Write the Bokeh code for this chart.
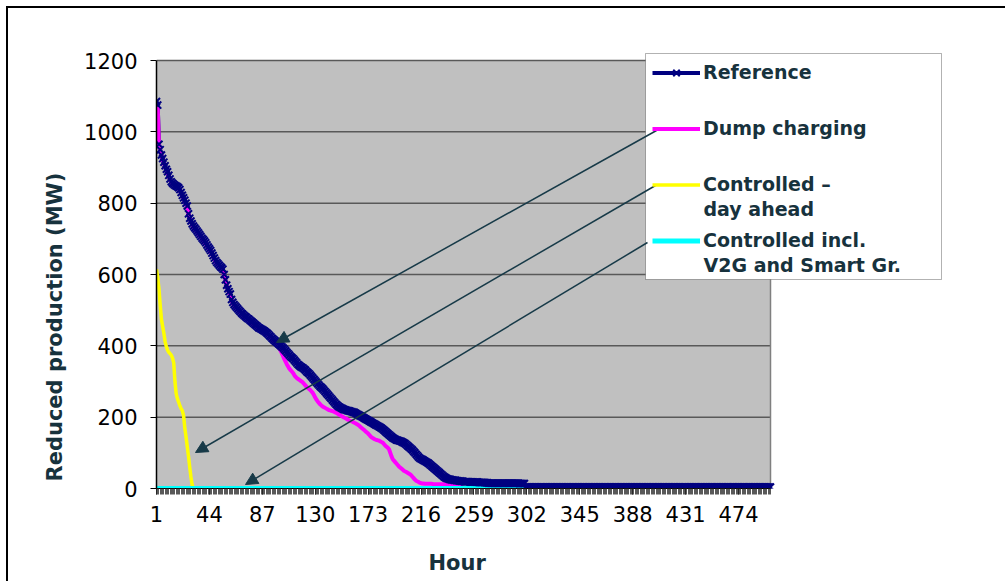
from bokeh.plotting import figure
from bokeh.models import (Range1d, FixedTicker, Legend, LegendItem, Arrow, NormalHead,
                          BoxAnnotation, Label, Title, LinearAxis)
from bokeh.embed import file_html
from bokeh.resources import INLINE

# ---------------- data ----------------
hours = list(range(1, 501))

reference = [
    1085, 1075, 965, 950, 935, 925, 915, 905, 895, 888,
    878, 868, 860, 856, 853, 850, 848, 846, 843, 838,
    830, 822, 815, 808, 800, 792, 770, 758, 750, 742,
    736, 731, 727, 722, 717, 712, 707, 702, 698, 694,
    689, 683, 677, 672, 667, 660, 653, 646, 639, 634,
    630, 626, 622, 619, 615, 600, 585, 570, 560, 552,
    545, 530, 522, 516, 512, 508, 504, 500, 496, 492,
    489, 486, 483, 480, 477, 475, 472, 469, 466, 463,
    460, 457, 454, 451, 449, 447, 445, 443, 441, 438,
    435, 432, 428, 425, 421, 418, 415, 412, 409, 406,
    403, 400, 397, 394, 390, 386, 382, 378, 374, 370,
    367, 364, 360, 356, 352, 348, 345, 342, 340, 338,
    335, 332, 328, 325, 322, 318, 314, 310, 306, 302,
    298, 294, 290, 286, 283, 280, 276, 272, 268, 264,
    260, 256, 252, 248, 244, 240, 236, 233, 230, 228,
    226, 224, 222, 221, 220, 219, 218, 217, 216, 215,
    214, 213, 211, 209, 207, 205, 203, 201, 199, 197,
    195, 193, 191, 189, 187, 185, 183, 181, 179, 177,
    175, 173, 171, 169, 166, 163, 160, 157, 154, 151,
    148, 145, 142, 140, 138, 136, 135, 134, 133, 132,
    130, 128, 126, 123, 120, 117, 114, 111, 108, 104,
    100, 96, 92, 88, 85, 83, 81, 79, 77, 75,
    73, 71, 68, 65, 62, 59, 56, 53, 50, 47,
    44, 41, 38, 35, 32, 30, 28, 27, 26, 25,
    24, 24, 23, 23, 22, 22, 21, 21, 20, 20,
    19, 19, 19, 19, 19, 18, 18, 18, 18, 18,
    18, 18, 17, 17, 17, 17, 17, 17, 16, 16,
    15, 15, 15, 15, 15, 15, 15, 15, 15, 15,
    15, 15, 15, 15, 15, 15, 15, 15, 15, 15,
    15, 15, 15, 15, 15, 14, 14, 14, 14, 14,
] + [4] * 200

dump_charging = [
    1080, 1070, 965, 948, 932, 922, 912, 902, 892, 885,
    875, 866, 858, 854, 851, 848, 846, 844, 840, 835,
    827, 819, 812, 805, 797, 788, 768, 756, 747, 740,
    734, 729, 724, 719, 714, 709, 704, 699, 695, 691,
    686, 680, 674, 669, 664, 657, 650, 643, 636, 631,
    627, 623, 619, 616, 612, 597, 582, 567, 557, 549,
    542, 527, 519, 513, 509, 505, 501, 497, 493, 489,
    486, 483, 480, 477, 474, 472, 469, 466, 463, 460,
    457, 454, 451, 448, 446, 444, 442, 440, 437, 434,
    431, 428, 424, 421, 417, 414, 411, 407, 403, 398,
    392, 385, 378, 370, 362, 355, 348, 342, 336, 332,
    328, 324, 318, 313, 310, 307, 305, 302, 300, 297,
    293, 289, 285, 282, 279, 276, 272, 268, 262, 255,
    249, 244, 240, 236, 233, 230, 228, 226, 224, 222,
    220, 219, 218, 217, 216, 214, 212, 210, 208, 206,
    204, 202, 200, 198, 196, 194, 192, 190, 189, 188,
    186, 184, 182, 180, 178, 175, 172, 169, 166, 163,
    160, 157, 154, 150, 146, 143, 141, 139, 137, 136,
    135, 134, 132, 130, 128, 124, 120, 117, 114, 110,
    100, 90, 82, 78, 74, 70, 66, 62, 59, 56,
    53, 50, 48, 46, 44, 42, 40, 37, 33, 29,
    25, 22, 20, 18, 16, 15, 14, 14, 13, 13,
    13, 13, 13, 13, 13, 12, 12, 12, 12, 12,
    12, 12, 12, 12, 12, 12, 12, 12, 12, 12,
    12, 12, 12, 12, 12, 10, 8, 6, 4, 2,
] + [0] * 250

day_ahead = [
    615, 590, 560, 515, 475, 455, 435, 412, 398, 388,
    382, 378, 374, 366, 352, 300, 266, 252, 242, 232,
    224, 218, 205, 170, 145, 118, 90, 60, 32, 10,
    0,
] + [0] * 469

v2g_smart = [0] * 500

x_tick_hours = [1, 44, 87, 130, 173, 216, 259, 302, 345, 388, 431, 474]
y_ticks = [0, 200, 400, 600, 800, 1000, 1200]

legend_first_lines = ["Reference", "Dump charging", "Controlled \u2013", "Controlled incl."]
legend_second_lines = ["day ahead", "V2G and Smart Gr."]
x_title = "Hour"
y_title = "Reduced production (MW)"

# ---------------- layout helpers (page pixels -> data units) ----------------
PLOT_LEFT, PLOT_BOTTOM = 156, 488          # page px of hour 1 / 0 MW
PX_PER_HOUR = 614 / (hours[-1] - hours[0])
PX_PER_MW = 428 / y_ticks[-1]


def hx(px):
    return hours[0] + (px - PLOT_LEFT) / PX_PER_HOUR


def vy(py):
    return (PLOT_BOTTOM - py) / PX_PER_MW


FRAME_W, FRAME_H = 849, 460
TXT = "#17323d"
FONT = "DejaVu Sans"

p = figure(frame_width=FRAME_W, frame_height=FRAME_H,
           min_border_left=148, min_border_right=0,
           min_border_top=20, min_border_bottom=93,
           x_range=Range1d(hours[0], hx(PLOT_LEFT + FRAME_W)),
           y_range=Range1d(0, vy(PLOT_BOTTOM - FRAME_H)),
           output_backend="svg", toolbar_location=None)
p.styles = {"margin-left": "8px", "margin-top": "8px", "outline": "2px solid black"}
p.background_fill_color = "white"
p.border_fill_color = "white"
p.outline_line_color = None
p.xgrid.visible = False
p.ygrid.visible = False

# grey plot area, its grid lines and right border
p.quad(left=hours[0], right=hours[-1], bottom=y_ticks[0], top=y_ticks[-1],
       fill_color="#c0c0c0", line_color=None, level="image")
p.segment(x0=[hours[0]] * (len(y_ticks) - 1), x1=[hours[-1]] * (len(y_ticks) - 1),
          y0=y_ticks[1:], y1=y_ticks[1:], line_color="#595959", line_width=1.5,
          level="underlay")
p.segment(x0=[hours[-1]], x1=[hours[-1]], y0=[y_ticks[0]], y1=[y_ticks[-1]],
          line_color="#7f7f7f", line_width=1.5, level="underlay")

# axes
p.yaxis.ticker = FixedTicker(ticks=y_ticks)
p.yaxis.bounds = (y_ticks[0], y_ticks[-1])
p.yaxis.minor_tick_line_color = None
p.yaxis.major_tick_out = 6
p.yaxis.major_tick_in = 0
p.yaxis.major_label_standoff = 13
p.yaxis.axis_line_color = "black"
p.yaxis.axis_line_width = 1.5

p.xaxis.ticker = FixedTicker(ticks=x_tick_hours, minor_ticks=hours)
p.xaxis.bounds = (hours[0], hours[-1])
p.xaxis.major_tick_out = 6
p.xaxis.major_tick_in = 0
p.xaxis.minor_tick_out = 6
p.xaxis.minor_tick_in = 0
p.xaxis.minor_tick_line_color = "#303030"
p.xaxis.minor_tick_line_alpha = 0.8
p.xaxis.major_label_standoff = 11
p.xaxis.axis_line_color = "black"

for ax in (p.xaxis[0], p.yaxis[0]):
    ax.major_label_text_font = FONT
    ax.major_label_text_font_size = "21px"
    ax.major_label_text_color = "black"

# invisible spacer axis between the tick labels and the "Hour" title
spacer = LinearAxis(ticker=FixedTicker(ticks=[hours[-1]]),
                    major_label_overrides={hours[-1]: ""},
                    major_label_text_font_size="1px", major_label_standoff=0,
                    axis_line_color=None, major_tick_line_color=None,
                    minor_tick_line_color=None, major_tick_out=21, major_tick_in=0,
                    minor_tick_out=0, minor_tick_in=0)
p.add_layout(spacer, "below")

# axis titles (placed as titles so they can sit off-centre like the original)
p.add_layout(Title(text=x_title, align="left", offset=272, vertical_align="middle",
                   standoff=9, text_font=FONT, text_font_size="21px",
                   text_font_style="bold", text_color=TXT), "below")
p.add_layout(Title(text=y_title, align="left", offset=7, vertical_align="middle",
                   standoff=27, text_font=FONT, text_font_size="21px",
                   text_font_style="bold", text_color=TXT), "left")

# series
ref_line = p.line(hours, reference, line_color="#000080", line_width=4)
dump_line = p.line(hours, dump_charging, line_color="#ff00ff", line_width=4)
day_line = p.line(hours, day_ahead, line_color="#ffff00", line_width=3.5)
v2g_line = p.line(hours, v2g_smart, line_color="#00ffff", line_width=5)
ref_pts = p.scatter(hours, reference, marker="x", size=10, line_color="#000080",
                    line_width=2)

# legend box
p.add_layout(BoxAnnotation(left=hx(645), right=hx(941), top=vy(53), bottom=vy(279),
                           fill_color="white", fill_alpha=1,
                           line_color="black", line_width=1))

legend = Legend(items=[
    LegendItem(label=legend_first_lines[0], renderers=[ref_line, ref_pts]),
    LegendItem(label=legend_first_lines[1], renderers=[dump_line]),
    LegendItem(label=legend_first_lines[2], renderers=[day_line]),
    LegendItem(label=legend_first_lines[3], renderers=[v2g_line]),
], location=(644 - PLOT_LEFT + 8, PLOT_BOTTOM - 259.5 + 8))
legend.background_fill_alpha = 0
legend.border_line_color = None
legend.label_text_font = FONT
legend.label_text_font_style = "bold"
legend.label_text_font_size = "19px"
legend.label_text_color = TXT
legend.glyph_width = 48
legend.glyph_height = 23
legend.label_height = 23
legend.label_standoff = 3
legend.padding = 8
legend.spacing = 33
legend.margin = 0
p.add_layout(legend, "center")

for text, py in zip(legend_second_lines, [208, 264]):
    p.add_layout(Label(x=hx(703), y=vy(py), text=text, text_font=FONT,
                       text_font_style="bold", text_font_size="19px",
                       text_color=TXT, text_baseline="middle", text_align="left"))

# arrows from legend entries to the curves
ARROW = "#173a48"
arrow_start_px = [(656, 130), (655, 185), (647, 242)]
arrow_end_px = [(276, 342), (195, 452), (245, 484)]
for (xs, ys), (xe, ye) in zip(arrow_start_px, arrow_end_px):
    p.add_layout(Arrow(end=NormalHead(size=12, fill_color=ARROW, line_color=ARROW),
                       x_start=hx(xs), y_start=vy(ys), x_end=hx(xe), y_end=vy(ye),
                       line_color=ARROW, line_width=1.5))

open("out.html", "w").write(file_html(p, INLINE))
